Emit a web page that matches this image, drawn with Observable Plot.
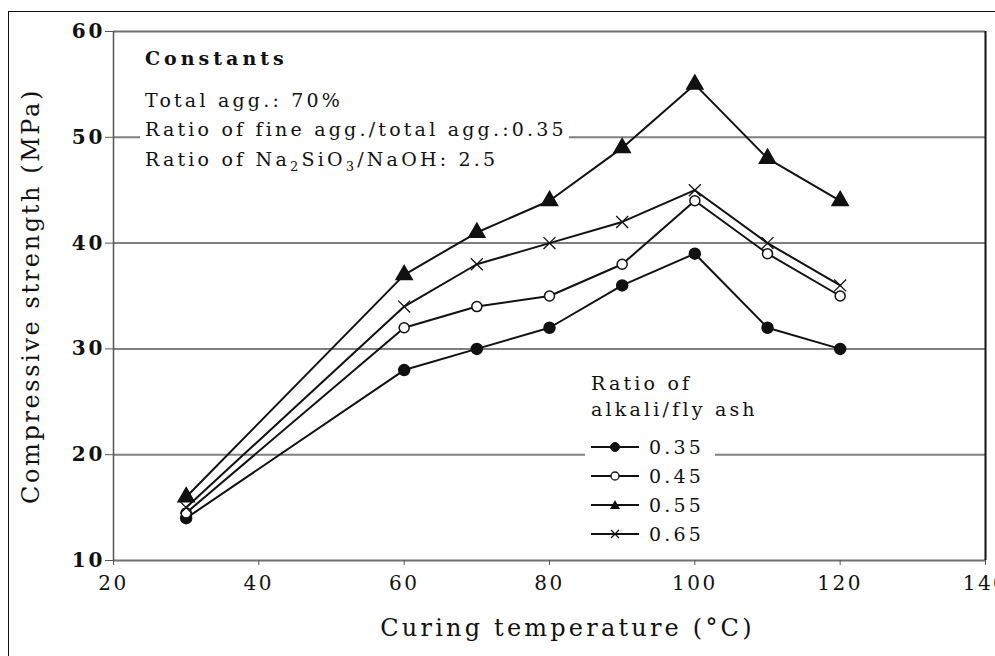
<!DOCTYPE html>
<html>
<head>
<meta charset="utf-8">
<script src="https://cdn.jsdelivr.net/npm/d3@7"></script>
<script src="https://cdn.jsdelivr.net/npm/@observablehq/plot@0.6"></script>
<style>
  html, body { margin: 0; padding: 0; background: #fff; overflow: hidden; }
  #wrap { position: relative; width: 995px; height: 656px; font-family: "DejaVu Serif", serif; color: #111; }
  #outer { position: absolute; left: 8px; top: 11px; width: 1000px; height: 700px; border: 1.5px solid #111; box-sizing: border-box; pointer-events: none; }
  #note { position: absolute; left: 140px; top: 44px; background: #fff; padding: 0 2px 0 5px; font-size: 19px; letter-spacing: 3.2px; line-height: 29.5px; }
  #note sub { line-height: 0; font-size: 13px; }
  #note .head { font-weight: bold; margin-bottom: 12px; letter-spacing: 4px; }
  #legend { position: absolute; left: 585px; top: 368px; width: 130px; background: #fff; font-size: 19px; letter-spacing: 3.2px; padding: 2px 0 4px 6px; box-sizing: border-box; white-space: nowrap; }
  #legend .t { line-height: 26px; }
  #legend .gap { height: 10px; }
  #legend .row { display: flex; align-items: center; height: 29px; }
  #legend .row svg { margin-right: 10px; }
  g[aria-label="x-axis tick label"] text { letter-spacing: 2.5px; }
  g[aria-label="y-axis tick label"] text { letter-spacing: 3px; }
</style>
</head>
<body>
<div id="wrap"><div id="outer"></div></div>
<script>
const temperatures = [30, 60, 70, 80, 90, 100, 110, 120];
const ratios = ["0.35", "0.45", "0.55", "0.65"];
const strength035 = [14, 28, 30, 32, 36, 39, 32, 30];
const strength045 = [14.5, 32, 34, 35, 38, 44, 39, 35];
const strength055 = [16, 37, 41, 44, 49, 55, 48, 44];
const strength065 = [15, 34, 38, 40, 42, 45, 40, 36];
const xTicks = [20, 40, 60, 80, 100, 120, 140];
const yTicks = [10, 20, 30, 40, 50, 60];
const gridValues = [20, 30, 40, 50];
const xLabel = "Curing temperature (°C)";
const yLabel = "Compressive strength (MPa)";

const seriesValues = [strength035, strength045, strength055, strength065];
const symbols = {"0.35": "circle", "0.45": "circle", "0.55": "triangle", "0.65": "times"};
const fills = {"0.35": "#111", "0.45": "#fff", "0.55": "#111", "0.65": "none"};

const rows = [];
ratios.forEach((r, i) => temperatures.forEach((t, j) => rows.push({ratio: r, temp: t, value: seriesValues[i][j]})));

const plot = Plot.plot({
  width: 995,
  height: 656,
  marginLeft: 113,
  marginRight: 10,
  marginTop: 31,
  marginBottom: 96,
  x: {domain: [20, 140]},
  y: {domain: [10, 60]},
  style: {fontFamily: "DejaVu Serif, serif", fontSize: "20px", color: "#111", background: "transparent", overflow: "visible"},
  marks: [
    Plot.ruleY(gridValues, {stroke: "#808080", strokeWidth: 2}),
    Plot.ruleY([10, 60], {stroke: "#707070", strokeWidth: 2}),
    Plot.ruleX([20], {stroke: "#555", strokeWidth: 1.5}),
    Plot.ruleX([140], {stroke: "#111", strokeWidth: 2}),
    Plot.axisX({ticks: xTicks, tickSize: 5, tickPadding: 10, label: null, stroke: "#555", tickFormat: d => String(d), fontSize: 20}),
    Plot.axisY({ticks: yTicks, tickSize: 8, tickPadding: 0, label: null, stroke: "#555", fontWeight: "bold", fontSize: 20}),
    Plot.text([xLabel], {frameAnchor: "bottom", dx: 18, dy: 75, fontSize: 24}),
    Plot.text([yLabel], {frameAnchor: "left", textAnchor: "middle", rotate: -90, dx: -82, dy: 0, fontSize: 24}),
    Plot.line(rows, {x: "temp", y: "value", z: "ratio", stroke: "#111", strokeWidth: 2}),
    ...ratios.map(r => Plot.dot(rows.filter(d => d.ratio === r), {
      x: "temp", y: "value",
      symbol: symbols[r],
      r: r === "0.55" ? 6 : (r === "0.45" ? 5 : 5.5),
      fill: fills[r],
      stroke: "#111",
      strokeWidth: r === "0.65" ? 1.3 : 1.5
    }))
  ]
});
plot.style.position = "absolute";
plot.style.left = "0px";
plot.style.top = "0px";
const wrap = document.getElementById("wrap");
wrap.appendChild(plot);
plot.querySelectorAll("text").forEach(t => {
  if (t.textContent === xLabel) t.style.letterSpacing = "3.2px";
  if (t.textContent === yLabel) t.style.letterSpacing = "2.6px";
});

const note = document.createElement("div");
note.id = "note";
note.innerHTML = '<div class="head">Constants</div>' +
  '<div>Total agg.: 70%</div>' +
  '<div>Ratio of fine agg./total agg.:0.35</div>' +
  '<div>Ratio of Na<sub>2</sub>SiO<sub>3</sub>/NaOH: 2.5</div>';
wrap.appendChild(note);

const legend = document.createElement("div");
legend.id = "legend";
let html = '<div class="t">Ratio of</div><div class="t">alkali/fly ash</div><div class="gap"></div>';
const markerSvg = r => {
  let m = "";
  if (r === "0.35") m = '<circle cx="24" cy="8" r="4.5" fill="#111" stroke="#111"/>';
  if (r === "0.45") m = '<circle cx="24" cy="8" r="4" fill="#fff" stroke="#111" stroke-width="1.3"/>';
  if (r === "0.55") m = '<path d="M24,3 L29,12 L19,12 Z" fill="#111"/>';
  if (r === "0.65") m = '<path d="M20,4 L28,12 M28,4 L20,12" stroke="#111" stroke-width="1.2"/>';
  return '<svg width="48" height="16"><line x1="0" y1="8" x2="48" y2="8" stroke="#111" stroke-width="2"/>' + m + '</svg>';
};
ratios.forEach(r => { html += '<div class="row">' + markerSvg(r) + '<span>' + r + '</span></div>'; });
legend.innerHTML = html;
wrap.appendChild(legend);
</script>
</body>
</html>
